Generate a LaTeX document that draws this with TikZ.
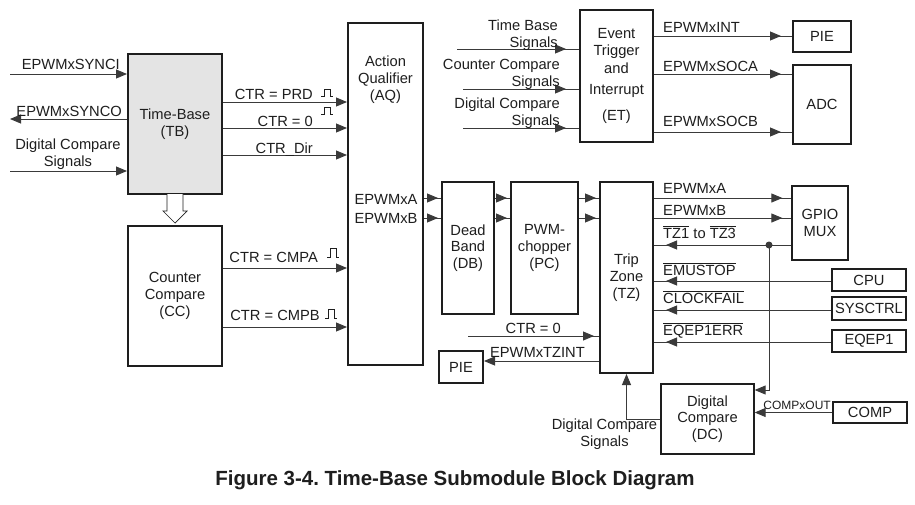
\documentclass[tikz,border=0pt]{standalone}
\usepackage{fontspec}
\setmainfont{Liberation Sans}
\usetikzlibrary{positioning,arrows.meta,decorations.markings}
\definecolor{ink}{HTML}{1E1E1E}
\definecolor{wire}{HTML}{3A3A3A}
\definecolor{tbgray}{HTML}{E4E4E4}
\newcommand{\ovl}[1]{$\overline{\hbox{#1}}$}
\newcommand{\pulse}[2]{\draw[pulseline] (#1) -- ++(3,0) -- ++(0,-#2) -- ++(6,0) -- ++(0,#2) -- ++(3,0);}
\frenchspacing

\begin{document}
\begin{tikzpicture}[
  x=1pt,y=-1pt,
  >={Triangle[length=11pt,width=9pt]},
  every node/.style={font=\fontsize{14.7}{16.8}\selectfont,text=ink,inner sep=0pt},
  blk/.style={draw=ink,line width=2pt,align=center},
  thinblk/.style={draw=ink,line width=1.3pt,align=center},
  lbl/.style={align=center},
  rlbl/.style={align=right},
  wireline/.style={draw=wire,line width=0.9pt},
  sig/.style={wireline,->},
  gapsig/.style={wireline,postaction={decorate},
    decoration={markings,mark=at position -#1 with {\arrow{Triangle[length=11pt,width=9pt]}}}},
  pulseline/.style={draw=ink,line width=0.7pt},
  hollow/.style={draw=ink,line width=0.7pt,fill=white}
]
\fill[white] (0,0) rectangle (915,504);
\useasboundingbox (0,0) rectangle (915,504);

% blocks
\node[blk,fill=tbgray,minimum width=94pt,minimum height=140pt] (tb) at (175,124) {Time-Base\\(TB)};
\node[blk,minimum width=94pt,minimum height=140pt] (cc) at (175,296) {Counter\\Compare\\(CC)};
\node[blk,minimum width=75pt,minimum height=342pt] (aq) at (385.5,194) {};
\node[blk,minimum width=52pt,minimum height=132pt] (db) at (468,248) {Dead\\Band\\(DB)};
\node[blk,minimum width=67pt,minimum height=132pt] (pc) at (544.5,248) {PWM-\\chopper\\(PC)};
\node[blk,minimum width=53pt,minimum height=191pt] (tz) at (626.5,277.5) {Trip\\Zone\\(TZ)};
\node[blk,minimum width=73pt,minimum height=132pt] (et) at (616.5,76) {Event\\Trigger\\[1pt]and\\[5pt]Interrupt\\[9pt](ET)};
\node[blk,minimum width=58pt,minimum height=31pt] (pieet) at (822,36.5) {PIE};
\node[blk,minimum width=58pt,minimum height=79pt] (adc) at (822,104.5) {ADC};
\node[thinblk,minimum width=56pt,minimum height=74pt] (gpio) at (820,223) {GPIO\\MUX};
\node[blk,minimum width=74pt,minimum height=22pt] (cpu) at (869,280) {CPU};
\node[blk,minimum width=74pt,minimum height=23pt] (sysctrl) at (869,308.5) {SYSCTRL};
\node[blk,minimum width=74pt,minimum height=22pt] (eqep) at (869,341) {EQEP1};
\node[blk,minimum width=44pt,minimum height=32pt] (pietz) at (461,367) {PIE};
\node[thinblk,minimum width=93pt,minimum height=70pt] (dc) at (707.5,419) {Digital\\Compare\\(DC)};
\node[blk,minimum width=74pt,minimum height=21pt] (comp) at (870,412.5) {COMP};

% texts inside the action qualifier
\node[lbl,anchor=north] (aqtxt) at (385.5,56) {Action\\Qualifier\\(AQ)};
\node[anchor=base] (aqa) at (386,204) {EPWMxA};
\node[anchor=base] (aqb) at (386,223) {EPWMxB};

% signal levels
\coordinate (synci) at (10,74);
\coordinate (synco) at (10,119);
\coordinate (tbdcs) at (10,171);
\coordinate (prdy) at (0,102);
\coordinate (zeroy) at (0,128);
\coordinate (diry) at (0,155);
\coordinate (cmpay) at (0,268);
\coordinate (cmpby) at (0,327);
\coordinate (ay) at (0,198);
\coordinate (by) at (0,218);
\coordinate (tzy) at (0,245);
\coordinate (emuy) at (0,281);
\coordinate (clky) at (0,310);
\coordinate (eqy) at (0,342);
\coordinate (tzctr) at (468,336);
\coordinate (tzint) at (0,361);
\coordinate (dcin) at (0,390);
\coordinate (jn) at (769,245);
\coordinate (etin1) at (457,49);
\coordinate (etin2) at (463,89);
\coordinate (etin3) at (463,128);
\coordinate (inty) at (0,36);
\coordinate (socay) at (0,74);
\coordinate (socby) at (0,132);

% time-base connections
\draw[sig] (synci) -- (tb.west |- synci);
\draw[sig] (tb.west |- synco) -- (synco);
\draw[sig] (tbdcs) -- (tb.west |- tbdcs);
\node[anchor=base east] (syncilbl) at (120,69) {EPWMxSYNCI};
\node[anchor=base east] (syncolbl) at (122,116) {EPWMxSYNCO};
\node[lbl,anchor=north] (tbdcslbl) at (68,139) {Digital Compare\\Signals};

\draw[sig] (tb.east |- prdy) -- (aq.west |- prdy);
\draw[sig] (tb.east |- zeroy) -- (aq.west |- zeroy);
\draw[sig] (tb.east |- diry) -- (aq.west |- diry);
\node[anchor=base east] (prdlbl) at (313,99) {CTR = PRD};
\node[anchor=base east] (zerolbl) at (313,126) {CTR = 0};
\node[anchor=base east] (dirlbl) at (313,153) {CTR\_Dir};
\pulse{321,96}{7}
\pulse{321,114}{7}

% hollow arrow TB to CC
\draw[hollow] (167,194) -- (167,211) -- (163,211) -- (175,223) -- (187,211) -- (183,211) -- (183,194);

% counter compare connections
\draw[sig] (cc.east |- cmpay) -- (aq.west |- cmpay);
\draw[sig] (cc.east |- cmpby) -- (aq.west |- cmpby);
\node[anchor=base east] (cmpalbl) at (318,262) {CTR = CMPA};
\node[anchor=base east] (cmpblbl) at (320,320) {CTR = CMPB};
\pulse{327,257}{9}
\pulse{325,318}{9}

% pwm path
\draw[gapsig=3pt] (aq.east |- ay) -- (db.west |- ay);
\draw[gapsig=3pt] (aq.east |- by) -- (db.west |- by);
\draw[gapsig=3pt] (db.east |- ay) -- (pc.west |- ay);
\draw[gapsig=3pt] (db.east |- by) -- (pc.west |- by);
\draw[gapsig=3pt] (pc.east |- ay) -- (tz.west |- ay);
\draw[gapsig=3pt] (pc.east |- by) -- (tz.west |- by);

% trip zone connections
\draw[gapsig=9pt] (tz.east |- ay) -- (gpio.west |- ay);
\draw[gapsig=9pt] (tz.east |- by) -- (gpio.west |- by);
\draw[gapsig=12pt] (gpio.west |- tzy) -- (tz.east |- tzy);
\draw[gapsig=12pt] (cpu.west |- emuy) -- (tz.east |- emuy);
\draw[gapsig=12pt] (sysctrl.west |- clky) -- (tz.east |- clky);
\draw[gapsig=12pt] (eqep.west |- eqy) -- (tz.east |- eqy);
\fill[wire] (jn) circle (3.5);
\draw[sig] (jn) |- (dc.east |- dcin);
\node[anchor=base west] (albl) at (663,193) {EPWMxA};
\node[anchor=base west] (blbl) at (663,215) {EPWMxB};
\node[anchor=base west] (tzlbl) at (663,238) {\ovl{TZ1} to \ovl{TZ3}};
\node[anchor=base west] (emulbl) at (663,275) {\ovl{EMUSTOP}};
\node[anchor=base west] (clklbl) at (663,303) {\ovl{CLOCKFAIL}};
\node[anchor=base west] (eqlbl) at (663,335) {\ovl{EQEP1ERR}};

\draw[gapsig=5pt] (tzctr) -- (tz.west |- tzctr);
\node[anchor=base east] (tzctrlbl) at (561,333) {CTR = 0};
\draw[sig] (tz.west |- tzint) -- (pietz.east |- tzint);
\node[anchor=base east] (tzintlbl) at (585,357) {EPWMxTZINT};

% digital compare connections
\draw[sig] (dc.west) -| (tz.south);
\node[lbl,anchor=north] (dcslbl) at (604.5,419) {Digital Compare\\Signals};
\draw[sig] (comp.west) -- (dc.east |- comp.west);
\node[anchor=base east,font=\fontsize{12}{14}\selectfont] (compxlbl) at (831,409) {COMPxOUT};

% event trigger connections
\draw[gapsig=13pt] (etin1) -- (et.west |- etin1);
\draw[gapsig=13pt] (etin2) -- (et.west |- etin2);
\draw[gapsig=13pt] (etin3) -- (et.west |- etin3);
\node[rlbl,anchor=north east] (etin1lbl) at (558,20) {Time Base\\Signals};
\node[rlbl,anchor=north east] (etin2lbl) at (560,59) {Counter Compare\\Signals};
\node[rlbl,anchor=north east] (etin3lbl) at (560,98) {Digital Compare\\Signals};
\draw[gapsig=11pt] (et.east |- inty) -- (pieet.west |- inty);
\draw[gapsig=11pt] (et.east |- socay) -- (adc.west |- socay);
\draw[gapsig=11pt] (et.east |- socby) -- (adc.west |- socby);
\node[anchor=base west] (intlbl) at (663,32) {EPWMxINT};
\node[anchor=base west] (socalbl) at (663,71) {EPWMxSOCA};
\node[anchor=base west] (socblbl) at (663,126) {EPWMxSOCB};

% caption
\node[anchor=base,font=\fontsize{20.5}{24}\selectfont\bfseries] (caption) at (455,485) {Figure 3-4. Time-Base Submodule Block Diagram};
\end{tikzpicture}
\end{document}
